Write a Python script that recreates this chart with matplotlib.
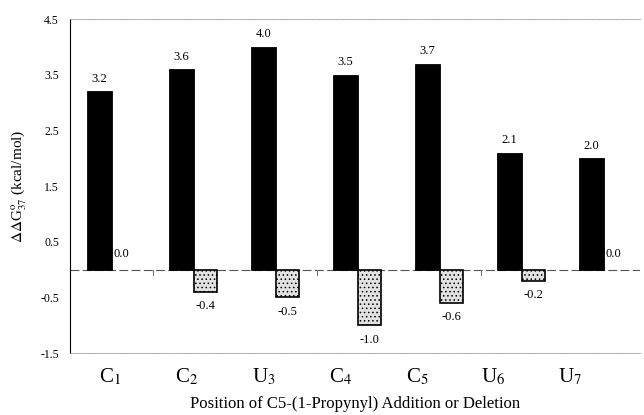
import numpy as np
import matplotlib
matplotlib.use("Agg")
import matplotlib.pyplot as plt

# ---------------------------
# Data
# ---------------------------
positions = ["C$_1$", "C$_2$", "U$_3$", "C$_4$", "C$_5$", "U$_6$", "U$_7$"]
addition = [3.2, 3.6, 4.0, 3.5, 3.7, 2.1, 2.0]
deletion = [0.0, -0.4, -0.5, -1.0, -0.6, -0.2, 0.0]
y_ticks = [-1.5, -0.5, 0.5, 1.5, 2.5, 3.5, 4.5]

plt.rcParams["font.family"] = ["Liberation Serif", "DejaVu Serif"]
plt.rcParams["mathtext.fontset"] = "stix"
plt.rcParams["hatch.color"] = "#8a8a8a"
plt.rcParams["hatch.linewidth"] = 0.6

fig = plt.figure(figsize=(6.44, 4.15), dpi=100)
ax = fig.add_axes([0.1087, 0.149, 0.885, 0.805])

x = np.arange(len(positions))
w = 0.3

# black bars sit left of the category centre, stippled bars right of it
ax.bar(x, addition, width=-w, align="edge", color="black", edgecolor="black",
       linewidth=0.6, zorder=2)
edge_w = [1.2 if v != 0 else 0 for v in deletion]
ax.bar(x, deletion, width=w * 0.95, align="edge", color="#e2e2e2",
       edgecolor="black", linewidth=edge_w, hatch="....", zorder=2)

# value labels
for xi, v in zip(x, addition):
    ax.text(xi - w / 2, v + 0.12, f"{v:.1f}", ha="center", va="bottom", fontsize=9)
for xi, v in zip(x, deletion):
    if v == 0:
        ax.text(xi + 0.02, 0.18, f"{v:.1f}", ha="left", va="bottom", fontsize=9)
    else:
        ax.text(xi + w * 0.95 / 2, v - 0.15, f"{v:.1f}", ha="center", va="top",
                fontsize=9)

# zero line and sparse category ticks
ax.axhline(0, color="#555555", linewidth=0.8, linestyle=(0, (8, 3)), zorder=1)
for xt in [0.5, 2.5, 4.5]:
    ax.plot([xt, xt], [0, -0.09], color="#777777", linewidth=0.8)

ax.set_xlim(-0.512, 6.44)
ax.set_ylim(-1.5, 4.5)
ax.set_yticks(y_ticks)
ax.set_yticklabels([f"{t:.1f}" for t in y_ticks], fontsize=8.5)
ax.tick_params(axis="y", length=0, pad=8)

label_pos = -0.02 + x * 0.935
ax.set_xticks(label_pos)
ax.set_xticklabels(positions, fontsize=15)
ax.tick_params(axis="x", length=0, pad=10)

ax.spines["right"].set_visible(False)
for side in ["top", "bottom"]:
    ax.spines[side].set_color("#999999")
    ax.spines[side].set_linestyle((0, (2, 1.5)))
    ax.spines[side].set_linewidth(0.6)
ax.spines["left"].set_linewidth(0.8)

ax.set_ylabel(r"$\Delta\Delta$G$^{\mathrm{o}}_{37}$ (kcal/mol)", fontsize=11, labelpad=8)
ax.set_xlabel("Position of C5-(1-Propynyl) Addition or Deletion", fontsize=12, labelpad=6)

fig.savefig("out.png", dpi=100)
